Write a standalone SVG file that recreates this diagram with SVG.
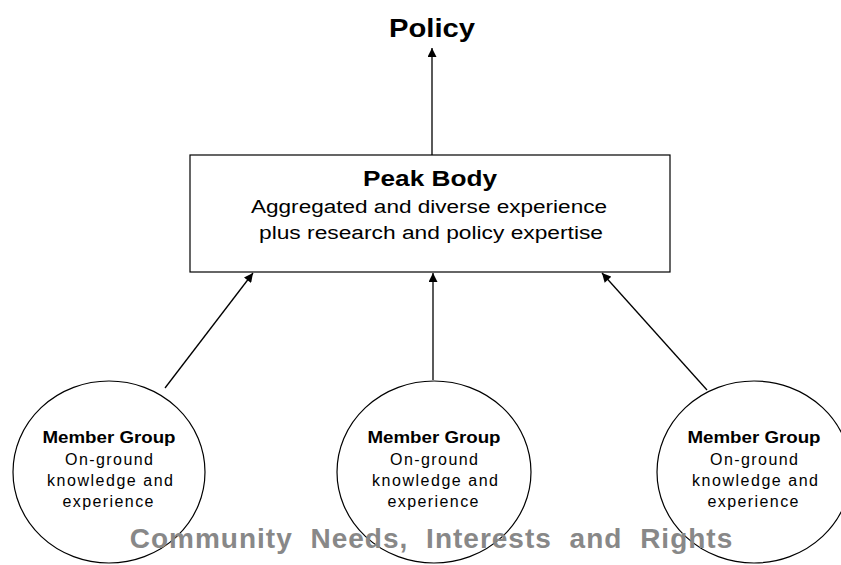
<svg xmlns="http://www.w3.org/2000/svg" width="841" height="565" viewBox="0 0 841 565">
<style>
text{font-family:"Liberation Sans",Arial,sans-serif;fill:#000;text-anchor:middle}
.b{font-weight:bold}
.node{fill:#fff;stroke:#000;stroke-width:1.2}
.conn{stroke:#000;stroke-width:1.3;fill:none;marker-end:url(#ah)}
.mt{font-size:16px}
</style>
<defs>
<marker id="ah" viewBox="0 0 10 10" refX="10" refY="5" markerWidth="10" markerHeight="9" markerUnits="userSpaceOnUse" orient="auto">
<path d="M0,0 L10,5 L0,10 Z" fill="#000"/>
</marker>
</defs>
<rect width="841" height="565" fill="#fff"/>
<g id="policy">
<text class="b" x="432" y="37" font-size="26" textLength="86" lengthAdjust="spacingAndGlyphs">Policy</text>
</g>
<g id="peak-body">
<rect class="node" x="190" y="155" width="480" height="117"/>
<text class="b" x="430" y="186" font-size="22" textLength="134" lengthAdjust="spacingAndGlyphs">Peak Body</text>
<text x="429" y="213" font-size="18" textLength="356" lengthAdjust="spacingAndGlyphs">Aggregated and diverse experience</text>
<text x="431" y="239" font-size="18" textLength="344" lengthAdjust="spacingAndGlyphs">plus research and policy expertise</text>
</g>
<g id="member-left">
<ellipse class="node" cx="109" cy="472" rx="96" ry="91"/>
<text class="b mt" x="109" y="443" textLength="133" lengthAdjust="spacingAndGlyphs">Member Group</text>
<text class="mt" x="109" y="465" textLength="88" lengthAdjust="spacing">On-ground</text>
<text class="mt" x="110" y="486" textLength="126" lengthAdjust="spacing">knowledge and</text>
<text class="mt" x="108" y="507" textLength="91" lengthAdjust="spacing">experience</text>
</g>
<g id="member-middle">
<ellipse class="node" cx="434" cy="472" rx="97" ry="91"/>
<text class="b mt" x="434" y="443" textLength="133" lengthAdjust="spacingAndGlyphs">Member Group</text>
<text class="mt" x="434" y="465" textLength="88" lengthAdjust="spacing">On-ground</text>
<text class="mt" x="435" y="486" textLength="126" lengthAdjust="spacing">knowledge and</text>
<text class="mt" x="433" y="507" textLength="91" lengthAdjust="spacing">experience</text>
</g>
<g id="member-right">
<ellipse class="node" cx="754" cy="472" rx="97" ry="91"/>
<text class="b mt" x="754" y="443" textLength="133" lengthAdjust="spacingAndGlyphs">Member Group</text>
<text class="mt" x="754" y="465" textLength="88" lengthAdjust="spacing">On-ground</text>
<text class="mt" x="755" y="486" textLength="126" lengthAdjust="spacing">knowledge and</text>
<text class="mt" x="753" y="507" textLength="91" lengthAdjust="spacing">experience</text>
</g>
<g id="connectors">
<line class="conn" x1="432" y1="155" x2="432" y2="48"/>
<line class="conn" x1="165" y1="388" x2="253" y2="273"/>
<line class="conn" x1="433" y1="380" x2="433" y2="273"/>
<line class="conn" x1="707" y1="390" x2="602" y2="273"/>
</g>
<g id="community">
<text class="b" x="431.5" y="548" font-size="28" style="fill:#888;letter-spacing:1px;word-spacing:9px">Community Needs, Interests and Rights</text>
</g>
</svg>
